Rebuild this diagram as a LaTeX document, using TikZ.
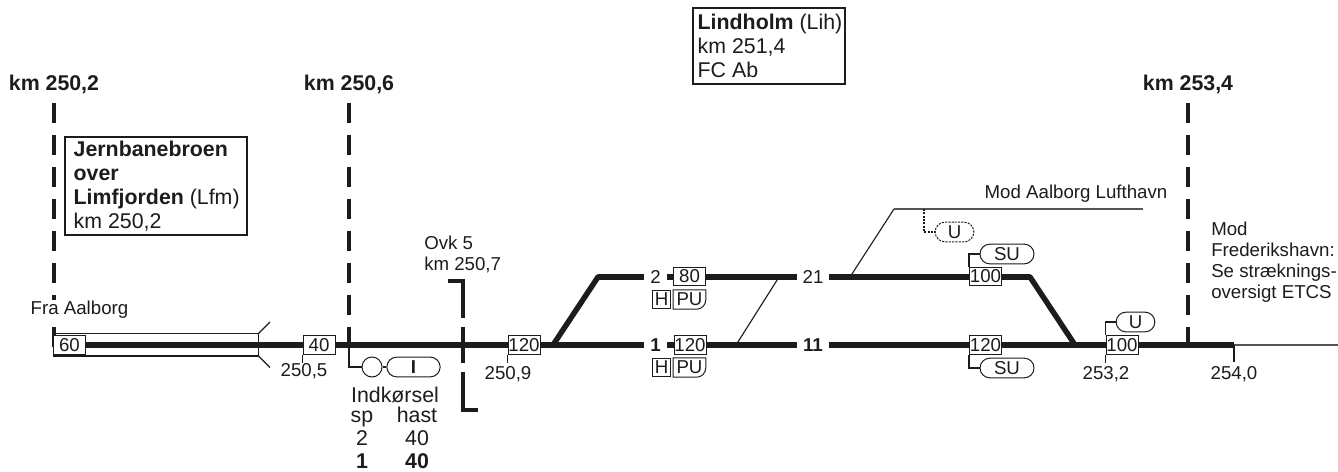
\documentclass[tikz,border=0pt]{standalone}
\usepackage{fontspec}
\setmainfont{Liberation Sans}
\usetikzlibrary{shapes.misc}
\definecolor{ink}{RGB}{28,28,28}
\definecolor{gy}{RGB}{85,85,85}
\tikzset{
    txt/.style={font=\fontsize{14}{15.75}\selectfont,text=ink,inner sep=0pt,align=left},
    bigtxt/.style={font=\fontsize{16}{18}\selectfont,text=ink,inner sep=0pt,align=left},
    bigbold/.style={font=\fontsize{16}{18}\selectfont\bfseries,text=ink,inner sep=0pt,align=left},
    trk/.style={line width=3.9pt,draw=ink},
    slant/.style={line width=4.1pt,draw=ink,line cap=round},
    kmline/.style={line width=2.8pt,draw=ink,dash pattern=on 15pt off 9pt},
    ovkline/.style={line width=2.8pt,draw=ink},
    thinl/.style={line width=0.85pt,draw=ink},
    farl/.style={line width=1.2pt,draw=gy},
    dots/.style={dash pattern=on 1.6pt off 0.9pt},
    spdbox/.style={txt,draw=ink,line width=0.75pt,fill=white,minimum width=24pt,minimum height=14.2pt,align=center},
    signbox/.style={txt,draw=ink,line width=0.75pt,fill=white,minimum width=14.2pt,minimum height=14.2pt,align=center},
    pubox/.style={txt,minimum width=24pt,minimum height=14.2pt,align=center},
    pill/.style={txt,rounded rectangle,draw=ink,line width=0.75pt,fill=white,minimum height=14.8pt,align=center},
    namebox/.style={draw=ink,line width=0.85pt,fill=white,inner sep=0pt},
    tracklbl/.style={txt,fill=white,minimum height=8pt,align=center},
}
\begin{document}
\begin{tikzpicture}[x=0.75pt,y=-0.75pt]
\useasboundingbox (0,0) rectangle (1338,471);

% ── km posts ──
\node[bigbold,anchor=base] (kma) at (54,90.5) {km 250,2};
\node[bigbold,anchor=base] (kmb) at (349,90.5) {km 250,6};
\node[bigbold,anchor=base] (kmc) at (1188,90.5) {km 253,4};
\coordinate (topa) at (54,103);
\coordinate (topb) at (349,103);
\coordinate (topc) at (1188,103);
\foreach \p in {a,b,c}{
    \draw[kmline] (top\p) -- ++(0,244);
}

% ── station boxes ──
\node[namebox,minimum width=136.5pt,minimum height=73.5pt] (bridge) at (156,186) {};
\node[bigtxt,anchor=west] (bridgetxt) at ([xshift=6.75pt]bridge.west)
    {\textbf{Jernbanebroen}\\\textbf{over}\\\textbf{Limfjorden} (Lfm)\\km 250,2};
\node[namebox,minimum width=114pt,minimum height=57pt] (lindholm) at (769,46) {};
\node[bigtxt,anchor=west] (lindholmtxt) at ([xshift=3.75pt]lindholm.west)
    {\textbf{Lindholm} (Lih)\\km 251,4\\FC Ab};
\node[txt,fill=white,inner sep=1pt] (fra) at (79.5,310) {Fra Aalborg};

% ── track names (they cut the track) ──
\node[tracklbl,minimum width=17.5pt] (trb) at (655.5,277) {2};
\node[tracklbl,minimum width=17.5pt,font=\fontsize{14}{15.75}\selectfont\bfseries] (tra) at (655.5,345) {1};
\node[tracklbl,minimum width=24pt] (trbb) at (813,277) {21};
\node[tracklbl,minimum width=24pt,font=\fontsize{14}{15.75}\selectfont\bfseries] (traa) at (813,345) {11};

% ── tracks ──
\coordinate (west) at (54,345);
\coordinate (swa) at (553,345);
\coordinate (swat) at (598,277);
\coordinate (swbt) at (1030,277);
\coordinate (swb) at (1075,345);
\coordinate (eastend) at (1234,345);
\coordinate (edge) at (1338,345);
\draw[trk] (west) -- (tra);
\draw[trk] (tra) -- (traa);
\draw[trk] (traa) -- (eastend);
\draw[trk] (swat) -- (trb);
\draw[trk] (trb) -- (trbb);
\draw[trk] (trbb) -- (swbt);
\draw[slant] (swa) -- (swat);
\draw[slant] (swbt) -- (swb);
\draw[farl] (eastend) -- (edge);

% ── bridge outline ──
\coordinate (brnw) at (54,333.5);
\coordinate (brse) at (258.5,356);
\draw[thinl] (brnw) rectangle (brse);
\draw[thinl] (brnw -| brse) -- ++(11.5,-11.5);
\draw[thinl] (brse) -- ++(11.5,11.5);

% ── thin track connections ──
\coordinate (cra) at (736,345);
\coordinate (crb) at (779,277);
\coordinate (brc) at (850,277);
\coordinate (brd) at (894,209);
\coordinate (bre) at (1143,209);
\draw[thinl] (cra) -- (crb);
\draw[thinl] (brc) -- (brd);
\draw[farl] (brd) -- (bre);
\node[txt] (lufthavn) at (1076,194) {Mod Aalborg Lufthavn};

% ── level crossing ──
\node[txt] (ovk) at (424,254) [anchor=west] {Ovk 5\\km 250,7};
\coordinate (ovka) at (448,281);
\coordinate (ovkb) at (463,281);
\coordinate (ovkc) at (463,318);
\coordinate (ovkd) at (463,327);
\coordinate (ovke) at (463,363);
\coordinate (ovkf) at (463,372);
\coordinate (ovkg) at (463,410);
\coordinate (ovkh) at (478,410);
\draw[ovkline] (ovka) -- (ovkb) -- (ovkc);
\draw[ovkline] (ovkd) -- (ovke);
\draw[ovkline] (ovkf) -- (ovkg) -- (ovkh);

% ── speed boxes ──
\node[spdbox] (sa) at (69.5,345) {60};
\node[spdbox] (sb) at (319,345) {40};
\node[spdbox] (sc) at (524,345) {120};
\node[spdbox] (sd) at (689.5,276.5) {80};
\node[spdbox] (se) at (690,345) {120};
\node[spdbox] (sf) at (985.5,276.5) {100};
\node[spdbox] (sg) at (985.5,345) {120};
\node[spdbox] (sh) at (1122,345) {100};

% ── H and PU signs ──
\node[signbox] (ha) at (661.5,299.5) {H};
\node[signbox] (hb) at (661.5,367.5) {H};
\node[pubox] (pua) at (689.5,299.5) {PU};
\node[pubox] (pub) at (689.5,367.5) {PU};
\foreach \n in {pua,pub}{
    \draw[line width=0.75pt,draw=ink] (\n.north west) -- (\n.north east)
        [rounded corners=7pt] -- (\n.south east) [sharp corners] -- (\n.south west) -- cycle;
}

% ── km ticks ──
\node[txt,anchor=base] (lb) at (304,376) {250,5};
\node[txt,anchor=base] (lc) at (508,379) {250,9};
\node[txt,anchor=base] (lh) at (1106,379) {253,2};
\node[txt,anchor=base] (le) at (1234,379) {254,0};
\draw[thinl] (sb.south west) -- ++(0,8);
\draw[thinl] (sc.south west) -- ++(0,8);
\draw[thinl] (sh.south west) -- ++(0,8);
\draw[thinl] (eastend) -- ++(0,17);

% ── entry signal ──
\coordinate (postb) at (349,345);
\node[draw=ink,line width=0.75pt,circle,fill=white,inner sep=0pt,minimum size=15pt] (ci) at (372,367) {};
\node[pill,minimum width=40pt,font=\fontsize{14}{15.75}\selectfont\bfseries] (pi) at (413.5,367) {I};
\draw[thinl] (postb) |- (ci.west);
\draw[thinl] (ci) -- (pi);
\node[bigtxt,anchor=base] (ind) at (395,402) {Indkørsel};
\node[bigtxt,anchor=base] (isp) at (362,422) {sp};
\node[bigtxt,anchor=base] (iha) at (417,422) {hast};
\node[bigtxt,anchor=base] (ispb) at (362,445.5) {2};
\node[bigtxt,anchor=base] (ihb) at (417,445.5) {40};
\node[bigbold,anchor=base] (ispa) at (362,468) {1};
\node[bigbold,anchor=base] (ihc) at (417,468) {40};

% ── SU and U signals ──
\node[pill,minimum width=40.5pt] (su) at (1007,254) {SU};
\node[pill,minimum width=40.5pt] (sl) at (1007,368) {SU};
\node[pill,minimum width=29pt] (ur) at (1135.5,322) {U};
\node[pill,minimum width=29pt,dots] (ud) at (954.5,232) {U};
\draw[thinl] (sf.north west) |- (su.west);
\draw[thinl] (sg.south west) |- (sl.west);
\draw[thinl] (sh.north west) |- (ur.west);
\coordinate (dsig) at (924,209);
\draw[thinl,dots] (dsig) |- (ud.west);

% ── onward text ──
\node[txt,anchor=north west] (frh) at (1211,222) {Mod\\Frederikshavn:\\Se stræknings-\\oversigt ETCS};

\end{tikzpicture}
\end{document}
